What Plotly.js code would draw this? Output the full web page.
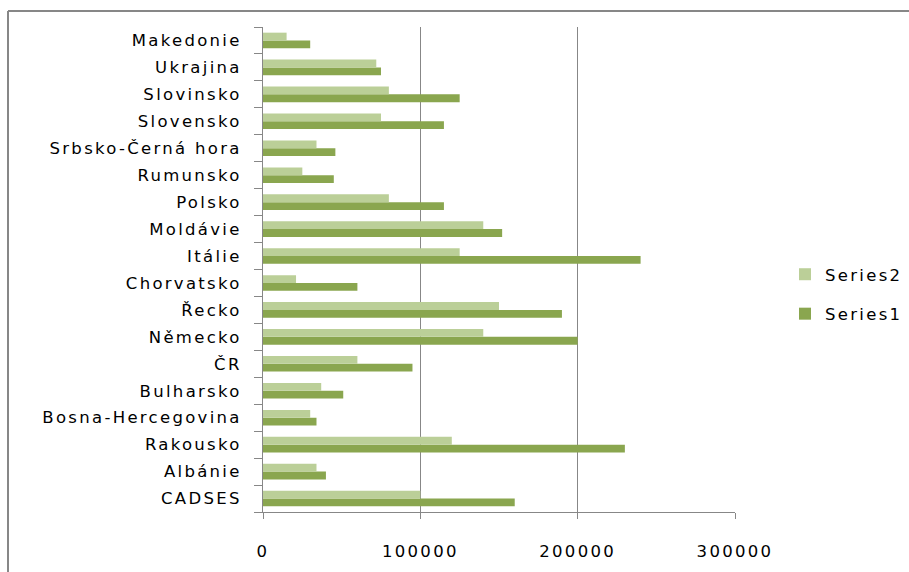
<!DOCTYPE html>
<html>
<head>
<meta charset="utf-8">
<script src="https://cdn.plot.ly/plotly-3.0.1.min.js"></script>
<style>
  html, body { margin: 0; padding: 0; background: #fff; }
  #chart { width: 909px; height: 572px; }
  #chart text { letter-spacing: 2.3px; }
</style>
</head>
<body>
<div id="chart"></div>
<script>
const categories = ["CADSES", "Albánie", "Rakousko", "Bosna-Hercegovina", "Bulharsko", "ČR", "Německo", "Řecko", "Chorvatsko", "Itálie", "Moldávie", "Polsko", "Rumunsko", "Srbsko-Černá hora", "Slovensko", "Slovinsko", "Ukrajina", "Makedonie"];
const series1 = [160000, 40000, 230000, 34000, 51000, 95000, 200000, 190000, 60000, 240000, 152000, 115000, 45000, 46000, 115000, 125000, 75000, 30000];
const series2 = [100000, 34000, 120000, 30000, 37000, 60000, 140000, 150000, 21000, 125000, 140000, 80000, 25000, 34000, 75000, 80000, 72000, 15000];
const xTicks = [0, 100000, 200000, 300000];
const xTickLabels = ["0", "100000", "200000", "300000"];

const W = 909, H = 572;
const m = { l: 263, r: 174, t: 27, b: 60 };
const pw = W - m.l - m.r, ph = H - m.t - m.b;
const px = v => (v - m.l) / pw;
const py = v => 1 - (v - m.t) / ph;

const font = { family: "DejaVu Sans, sans-serif", size: 16.5, color: "#000" };
const gray = "#878787";

const traces = [
  { type: "bar", orientation: "h", name: "Series1", y: categories, x: series1,
    marker: { color: "#8aa64f" }, legendgroup: "g1", legendrank: 2, hoverinfo: "x+y" },
  { type: "bar", orientation: "h", name: "Series2", y: categories, x: series2,
    marker: { color: "#bbcf98" }, legendgroup: "g2", legendrank: 1, hoverinfo: "x+y" }
];

const layout = {
  width: W, height: H,
  margin: m,
  paper_bgcolor: "#fff", plot_bgcolor: "#fff",
  font: font,
  barmode: "group", bargap: 0.42, bargroupgap: 0,
  showlegend: true,
  legend: { x: px(785), xanchor: "left", y: py(294), yanchor: "middle",
            traceorder: "grouped", tracegroupgap: 15, itemwidth: 30,
            font: font, bgcolor: "rgba(0,0,0,0)" },
  xaxis: { range: [0, 300000], tickvals: xTicks, ticktext: xTickLabels,
           showgrid: true, gridcolor: gray, gridwidth: 1,
           showline: true, linecolor: gray, linewidth: 1,
           ticks: "outside", ticklen: 6, tickcolor: gray,
           ticklabelstandoff: 18,
           zeroline: false, tickfont: font, fixedrange: true },
  yaxis: { type: "category", categoryorder: "array", categoryarray: categories,
           showgrid: false, showline: true, linecolor: gray, linewidth: 1,
           ticks: "outside", ticklen: 8, tickcolor: gray, tickson: "boundaries",
           ticklabelstandoff: 17,
           tickfont: font, fixedrange: true },
  shapes: [
    { type: "line", xref: "paper", yref: "paper", x0: px(8), x1: px(W + 5), y0: py(11), y1: py(11),
      line: { color: gray, width: 2 } },
    { type: "line", xref: "paper", yref: "paper", x0: px(8), x1: px(8), y0: py(11), y1: py(H + 5),
      line: { color: gray, width: 2 } }
  ]
};

Plotly.newPlot("chart", traces, layout, { displayModeBar: false, staticPlot: true }).then(gd => {
  // letter-spacing widens the legend text beyond Plotly's measured box: stop it from being clipped
  gd.querySelectorAll(".legend [clip-path]").forEach(e => e.removeAttribute("clip-path"));
});
</script>
</body>
</html>
